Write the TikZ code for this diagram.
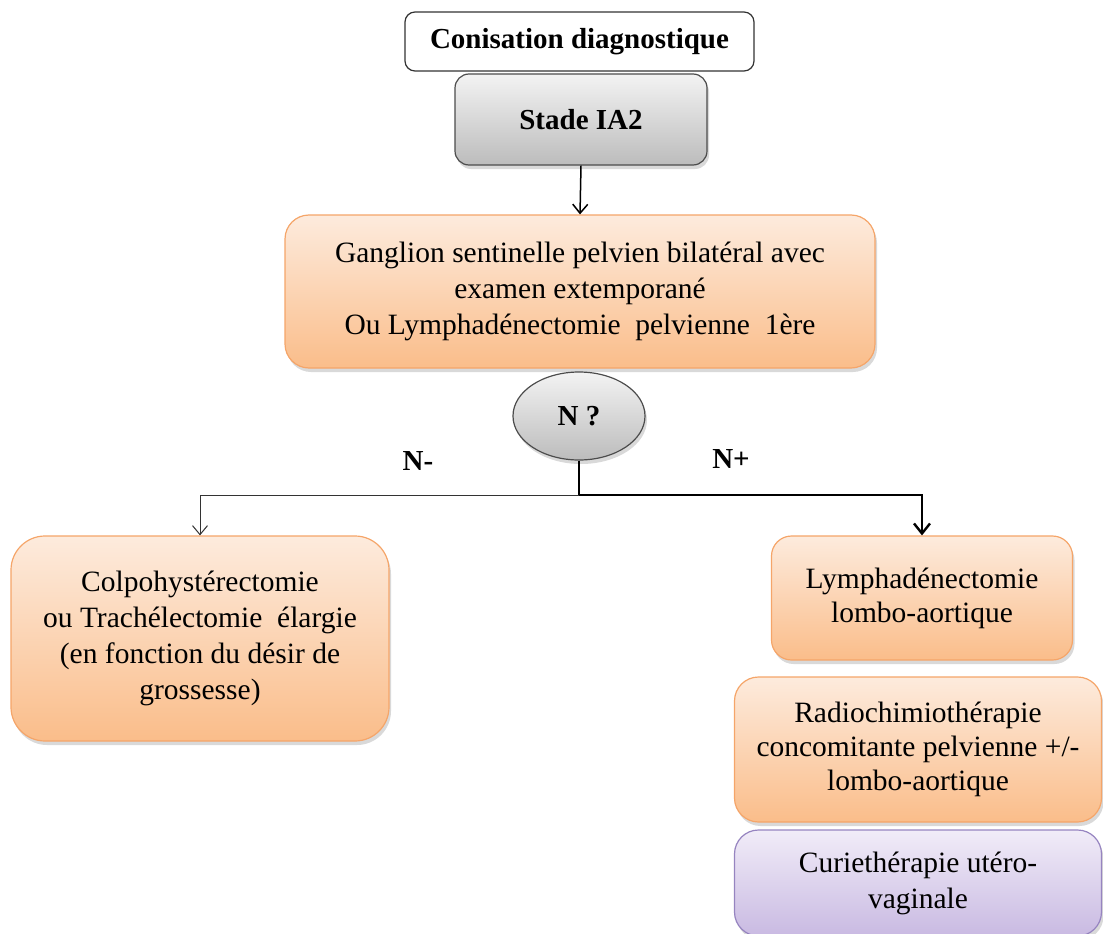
\documentclass[tikz,border=0pt]{standalone}
\usepackage{fontspec}
\setmainfont{Liberation Serif}
\usepackage{tikz}
\usetikzlibrary{shapes, arrows.meta, positioning, shadows}
\definecolor{orangeclair}{RGB}{253,235,221}
\definecolor{orangefonce}{RGB}{250,189,138}
\definecolor{bordorange}{RGB}{245,165,105}
\definecolor{grisclair}{RGB}{243,243,243}
\definecolor{grisfonce}{RGB}{188,188,188}
\definecolor{violetclair}{RGB}{241,236,248}
\definecolor{violetfonce}{RGB}{201,186,226}
\definecolor{bordviolet}{RGB}{150,132,192}
\tikzstyle{boite} = [rectangle, inner sep=0pt, align=center, font=\fontsize{29.5}{36}\selectfont, drop shadow={opacity=0.3, shadow xshift=2pt, shadow yshift=-4pt}]
\tikzstyle{boiteorange} = [boite, rounded corners=24pt, draw=bordorange, line width=1.2pt, top color=orangeclair, bottom color=orangefonce]
\tikzstyle{boiteviolet} = [boite, rounded corners=24pt, draw=bordviolet, line width=1.2pt, top color=violetclair, bottom color=violetfonce]
\tikzstyle{boitegrise} = [boite, rounded corners=14pt, draw=black!70, line width=1.2pt, top color=grisclair, bottom color=grisfonce, font=\fontsize{29}{36}\selectfont\bfseries]
\tikzstyle{titre} = [rectangle, rounded corners=10pt, draw=black!80, line width=1.2pt, fill=white, inner sep=0pt, font=\fontsize{29}{36}\selectfont\bfseries]
\tikzstyle{etiquette} = [inner sep=0pt, font=\fontsize{29}{36}\selectfont\bfseries]
\tikzstyle{fleche} = [-{Straight Barb[length=9pt, width=15pt]}]

\begin{document}
\begin{tikzpicture}[x=1pt, y=-1pt]
	\clip (0,0) rectangle (1103,934);
	\node [titre, minimum width=349pt, minimum height=59pt] (conisation) at (579.5,41.5) {Conisation diagnostique};
	\node [boitegrise, minimum width=252pt, minimum height=91pt] (stade) at (581,119.5) {Stade IA2};
	\node [boiteorange, minimum width=590pt, minimum height=153pt] (ganglion) at (580,291.5) {Ganglion sentinelle pelvien bilatéral avec\\examen extemporané\\Ou Lymphadénectomie\ \ pelvienne\ \ 1ère};
	\node [ellipse, draw=black!70, line width=1.2pt, top color=grisclair, bottom color=grisfonce, minimum width=132pt, minimum height=88pt, inner sep=0pt, font=\fontsize{29}{36}\selectfont\bfseries, drop shadow={opacity=0.3, shadow xshift=2pt, shadow yshift=-4pt}] (nq) at (579,416) {N ?};
	\node [etiquette] (nmoins) at (418,461) {N-};
	\node [etiquette] (nplus) at (731,459) {N+};
	\node [boiteorange, rounded corners=34pt, minimum width=378pt, minimum height=205pt] (colpo) at (200,638.5) {Colpohystérectomie\\ou Trachélectomie\ \ élargie\\(en fonction du désir de\\grossesse)};
	\node [boiteorange, rounded corners=20pt, minimum width=301pt, minimum height=124pt, font=\fontsize{29.5}{34}\selectfont] (lymph) at (922,598) {Lymphadénectomie\\lombo-aortique};
	\node [boiteorange, minimum width=367pt, minimum height=145pt, font=\fontsize{29.5}{34}\selectfont] (radio) at (918,749.5) {Radiochimiothérapie\\concomitante pelvienne +/-\\lombo-aortique};
	\node [boiteviolet, minimum width=367pt, minimum height=106pt] (curie) at (918,883) {Curiethérapie utéro-\\vaginale};
	\coordinate (jonction) at (579,495);
	\draw [fleche, line width=1.5pt] (stade.south) -- (ganglion.north);
	\draw [line width=1.8pt] (nq.south) -- (jonction);
	\draw [fleche, line width=1pt, black!80] (jonction) -| (colpo.north);
	\draw [-{Straight Barb[length=10pt, width=16pt]}, line width=2.4pt] (jonction) -| (lymph.north);
\end{tikzpicture}
\end{document}
